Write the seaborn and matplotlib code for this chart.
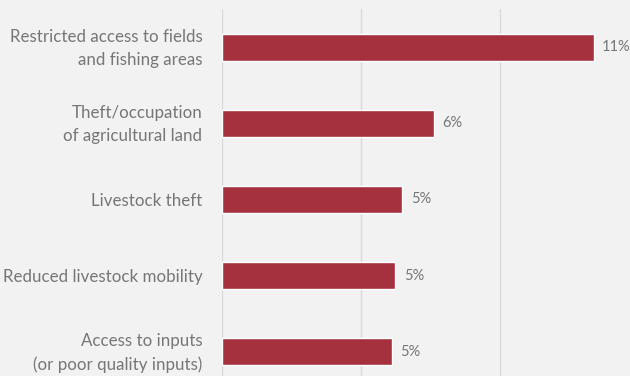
import matplotlib
matplotlib.use("Agg")
import matplotlib.pyplot as plt
import matplotlib.transforms as mtransforms
import seaborn as sns
import pandas as pd

categories = [
    "Restricted access to fields\nand fishing areas",
    "Theft/occupation\nof agricultural land",
    "Livestock theft",
    "Reduced livestock mobility",
    "Access to inputs\n(or poor quality inputs)",
]
shares = [10.7, 6.1, 5.2, 5.0, 4.9]
x_ticks = [0, 4, 8]

df = pd.DataFrame({"category": categories, "share": shares})

bg = "#f2f2f2"
bar_color = "#a6313e"
text_color = "#767676"
grid_color = "#d9d9d9"

sns.set_theme(style="white")
plt.rcParams["font.family"] = ["Lato", "DejaVu Sans"]

fig = plt.figure(figsize=(6.3, 3.76), dpi=100, facecolor=bg)
ax = fig.add_axes([221.7 / 630, -13.6 / 376, (630 - 221.7) / 630, (389.6 - 9.3) / 376])
ax.set_facecolor(bg)

sns.barplot(data=df, x="share", y="category", color=bar_color, width=0.355,
            saturation=1, ax=ax, orient="h")

ax.set_xlim(0, (630 - 221.7) / 34.75)
ax.set_xticks(x_ticks)
ax.set_xticklabels([])
ax.xaxis.grid(True, color=grid_color, linewidth=1)
ax.set_axisbelow(True)
ax.tick_params(axis="both", length=0)
ax.tick_params(axis="y", pad=14, labelsize=12.2, labelcolor=text_color)

# lift two-line labels slightly so the text block sits centred on its bar
lift = mtransforms.ScaledTranslation(0, 4 / 100, fig.dpi_scale_trans)
for lbl in ax.get_yticklabels():
    lbl.set_horizontalalignment("right")
    lbl.set_multialignment("right")
    lbl.set_linespacing(1.55)
    if "\n" in lbl.get_text():
        lbl.set_transform(lbl.get_transform() + lift)
ax.set_xlabel("")
ax.set_ylabel("")
for s in ax.spines.values():
    s.set_visible(False)

for patch, v in zip(ax.patches, shares):
    y = patch.get_y() + patch.get_height() / 2
    ax.annotate(f"{v:.0f}%", (patch.get_width(), y), xytext=(6, 0),
                textcoords="offset points", va="center", ha="left",
                fontsize=10.5, color=text_color)

fig.savefig("out.png", dpi=100, facecolor=bg)
